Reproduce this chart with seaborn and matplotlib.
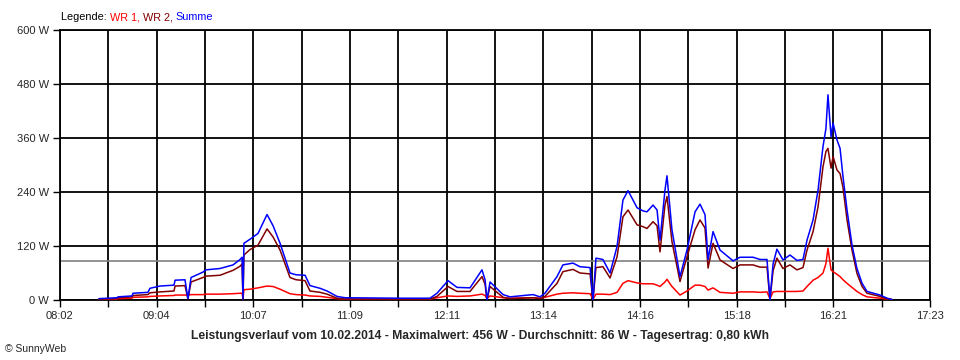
import pandas as pd
import matplotlib
matplotlib.use("Agg")
import matplotlib.pyplot as plt
import seaborn as sns

# Messzeitpunkte (Minuten seit Mitternacht) und Leistung in W
minutes = [507.1, 518.8, 519.4, 528.4, 529.1, 538.7, 540.0, 546.5, 555.5, 556.2,
           562.6, 564.5, 566.5, 574.2, 576.1, 585.2, 593.6, 598.1, 599.4, 600.0,
           600.6, 604.5, 609.7, 615.5, 619.4, 623.9, 630.3, 634.2, 640.0, 643.2,
           649.7, 654.2, 660.6, 665.8, 701.2, 720.6, 725.1, 732.2, 738.0, 746.4,
           754.1, 756.1, 757.3, 759.3, 763.8, 767.7, 772.2, 787.0, 791.5, 794.7,
           802.5, 806.3, 812.8, 817.3, 823.8, 825.7, 827.6, 832.1, 836.7, 841.2,
           845.0, 848.3, 854.1, 857.9, 860.5, 864.4, 867.0, 868.9, 872.1, 873.4,
           876.6, 881.8, 886.3, 891.5, 894.7, 897.9, 899.9, 903.1, 907.6, 916.0,
           920.5, 928.9, 933.4, 937.9, 939.8, 941.8, 944.3, 948.2, 952.7, 957.2,
           961.1, 963.7, 967.6, 970.8, 974.0, 975.9, 977.2, 979.2, 980.5, 983.0,
           985.0, 986.9, 989.5, 992.7, 995.9, 999.2, 1002.4, 1010.8, 1015.3, 1018.5]

summe = [3, 5, 7, 9, 15, 17, 26, 31, 33, 44,
         45, 3, 50, 62, 67, 70, 78, 90, 95, 2,
         126, 135, 148, 190, 165, 126, 60, 56, 55, 32,
         26, 20, 8, 5, 4, 4, 15, 43, 28, 27,
         67, 45, 0, 40, 25, 12, 7, 12, 7, 15,
         52, 78, 82, 74, 72, 0, 93, 90, 60, 119,
         222, 243, 205, 198, 196, 211, 200, 133, 244, 276,
         156, 52, 111, 196, 213, 190, 90, 152, 111, 87,
         95, 95, 90, 90, 0, 80, 113, 89, 100, 88,
         90, 133, 178, 244, 341, 381, 456, 363, 393, 356,
         337, 274, 200, 122, 70, 37, 19, 11, 4, 1]

wr2 = [2, 3, 5, 7, 10, 12, 16, 18, 20, 31,
       32, 2, 40, 50, 53, 55, 66, 75, 80, 0,
       100, 112, 122, 158, 140, 111, 50, 45, 43, 20,
       17, 13, 4, 2, 2, 2, 8, 30, 19, 19,
       52, 35, 0, 30, 17, 6, 3, 5, 3, 8,
       37, 63, 68, 60, 58, 0, 72, 74, 49, 96,
       185, 200, 167, 163, 159, 174, 165, 107, 211, 230,
       130, 41, 96, 156, 178, 160, 71, 126, 89, 70,
       78, 78, 73, 73, 0, 65, 93, 70, 78, 67,
       72, 111, 152, 207, 296, 330, 337, 293, 319, 289,
       281, 250, 178, 111, 59, 30, 15, 8, 3, 1]

wr1 = [1, 2, 3, 4, 6, 7, 8, 9, 10, 11,
       11, 11, 12, 12, 13, 13, 14, 15, 15, 3,
       23, 24, 27, 31, 30, 24, 14, 12, 11, 9,
       8, 6, 3, 2, 2, 2, 5, 9, 8, 9,
       13, 10, 3, 9, 7, 5, 4, 5, 4, 6,
       13, 15, 16, 15, 14, 2, 13, 13, 12, 17,
       37, 43, 38, 36, 36, 36, 33, 30, 40, 46,
       30, 11, 20, 33, 33, 30, 22, 27, 17, 15,
       18, 18, 17, 18, 3, 18, 19, 19, 19, 19,
       20, 30, 44, 50, 60, 81, 115, 67, 63, 57,
       52, 45, 37, 28, 19, 12, 7, 4, 2, 1]

average = 86
tick_labels = ["08:02", "09:04", "10:07", "11:09", "12:11",
               "13:14", "14:16", "15:18", "16:21", "17:23"]
y_ticks = [0, 120, 240, 360, 480, 600]

df = pd.DataFrame({"t": minutes, "WR 1": wr1, "WR 2": wr2, "Summe": summe})
long = df.melt(id_vars="t", var_name="serie", value_name="P")

sns.set_style("white")
plt.rcParams["font.family"] = ["Liberation Sans", "DejaVu Sans"]

fig = plt.figure(figsize=(9.6, 3.6), dpi=100)
ax = fig.add_axes([60 / 960, 60 / 360, 870 / 960, 270 / 360])

t0, t1 = 482, 1043
step = (t1 - t0) / 18
xt = [t0 + i * step for i in range(19)]
for x in xt:
    ax.axvline(x, color="black", lw=1.3, zorder=1)
for y in y_ticks:
    ax.axhline(y, color="black", lw=1.3, zorder=1)
ax.axhline(average, color="#808080", lw=1.2, zorder=1)

sns.lineplot(data=long, x="t", y="P", hue="serie", sort=False, estimator=None,
             palette={"WR 1": "#ff0000", "WR 2": "#800000", "Summe": "#0000ff"},
             linewidth=1.1, legend=False, ax=ax, zorder=3)

ax.set_xlim(t0, t1)
ax.set_ylim(0, 600)
ax.set_xticks(xt)
ax.set_xticklabels([tick_labels[i // 2] if i % 2 == 0 else "" for i in range(19)])
ax.set_yticks(y_ticks)
ax.set_yticklabels([f"{v} W" for v in y_ticks])
ax.tick_params(direction="out", length=5, width=1, color="black",
               labelsize=8, pad=3, bottom=True, left=True)
ax.set_xlabel("")
ax.set_ylabel("")
for s in ax.spines.values():
    s.set_color("black")
    s.set_linewidth(1.3)

fig.text(0.5, 24 / 360, "Leistungsverlauf vom 10.02.2014 - Maximalwert: 456 W - "
         "Durchschnitt: 86 W - Tagesertrag: 0,80 kWh",
         ha="center", va="center", fontsize=8.7, fontweight="bold")
fig.text(5 / 960, 11 / 360, "© SunnyWeb", ha="left", va="center", fontsize=7.5)

# Legende aus farbigen Textstuecken zusammensetzen
fig.canvas.draw()
r = fig.canvas.get_renderer()


def text_width(s):
    t = fig.text(0, 0, s, fontsize=7.8)
    w = t.get_window_extent(renderer=r).width
    t.remove()
    return w


x = 61
for txt, col in [("Legende: ", "black"), ("WR 1, ", "#ff0000"),
                 ("WR 2, ", "#800000"), ("Summe", "#0000ff")]:
    fig.text(x / 960, 343 / 360, txt, color=col, ha="left", va="center", fontsize=7.8)
    x += text_width(txt + "x") - text_width("x")

fig.savefig("out.png", dpi=100)
